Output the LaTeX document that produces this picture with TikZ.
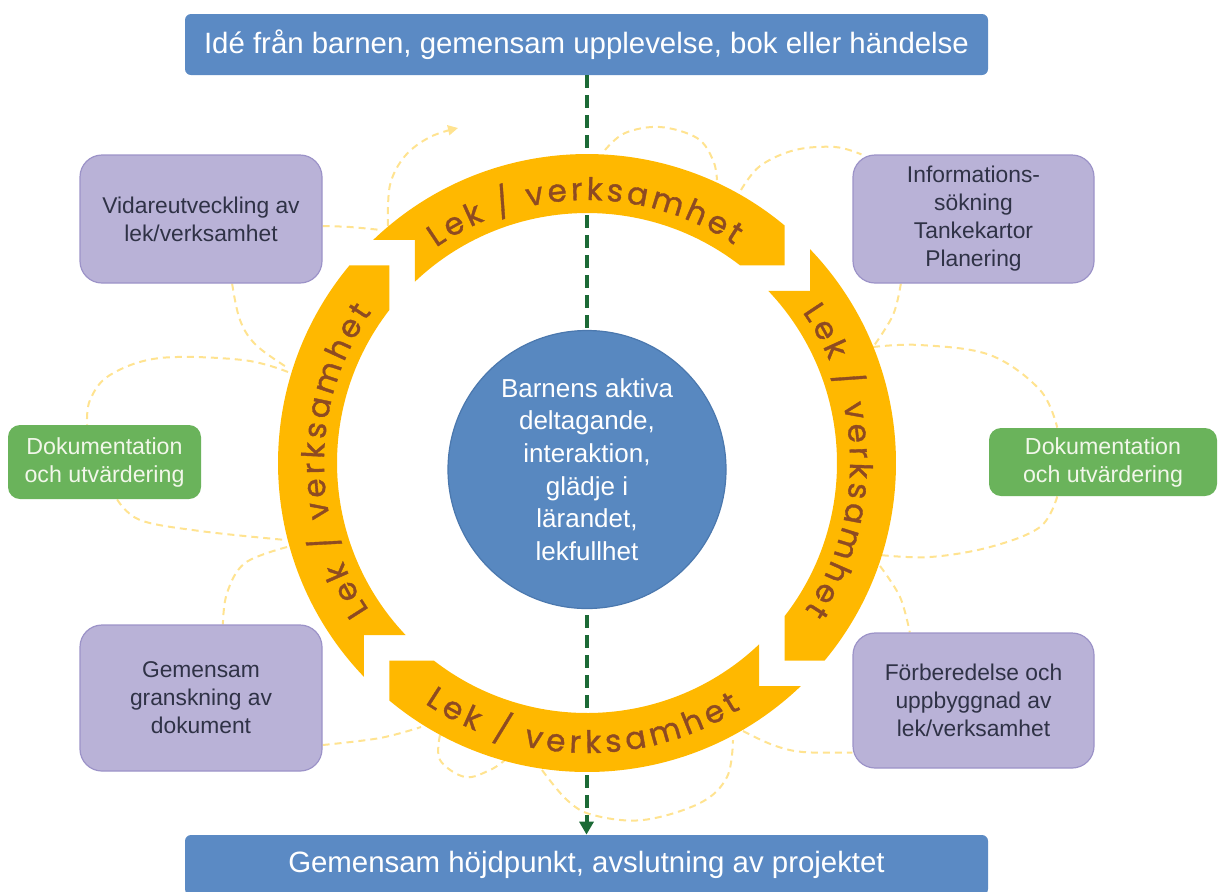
\documentclass[tikz,border=0pt]{standalone}
\usepackage{fontspec}
\setmainfont{Liberation Sans}
\newfontfamily\lekfont[FakeBold=1.2]{Poppins}
\usetikzlibrary{decorations.text,arrows.meta,calc}
\definecolor{bannerblue}{HTML}{5B8AC4}
\definecolor{circblue}{HTML}{5888C0}
\definecolor{circedge}{HTML}{4B78AE}
\definecolor{lilac}{HTML}{B9B2D7}
\definecolor{lilacedge}{HTML}{9C93C8}
\definecolor{lilactext}{HTML}{2F3246}
\definecolor{leafgreen}{HTML}{6AB35B}
\definecolor{leaftext}{HTML}{F2F7EA}
\definecolor{amber}{HTML}{FFB800}
\definecolor{lekbrown}{HTML}{8E4B22}
\definecolor{pathgreen}{HTML}{1C6A36}
\definecolor{dashyellow}{HTML}{FFE390}
\pgfdeclarelayer{bg}
\pgfsetlayers{bg,main}
\tikzset{
  banner/.style={rectangle, rounded corners=3pt, fill=bannerblue, text=white, font=\fontsize{14.7}{17}\selectfont, minimum width=401.5pt, inner sep=0pt},
  taskbox/.style={rectangle, rounded corners=11pt, fill=lilac, draw=lilacedge, line width=0.6pt, text=lilactext, align=center, font=\fontsize{11.4}{14}\selectfont, inner sep=0pt},
  docbox/.style={rectangle, rounded corners=6pt, fill=leafgreen, text=leaftext, align=center, font=\fontsize{11.6}{14}\selectfont, inner sep=0pt},
  hub/.style={circle, fill=circblue, draw=circedge, line width=0.6pt, text=white, align=center, font=\fontsize{13}{16.3}\selectfont, minimum size=139pt, inner sep=0pt},
  loopline/.style={draw=dashyellow, line width=1pt, dash pattern=on 3.5pt off 2.5pt},
  flowline/.style={draw=pathgreen, line width=2pt, dash pattern=on 6.5pt off 3.5pt},
  lektext/.style={decorate, decoration={text along path, text={|\lekfont\fontsize{15.5}{15.5}\selectfont|Lek / verksamhet}, text color=lekbrown, text align=fit to path}},
}
\begin{document}
\begin{tikzpicture}[x=0.5pt,y=-0.5pt]
\useasboundingbox (0,0) rectangle (1218,891);

% banners and flow line
\node[banner, minimum height=30.5pt] (top) at (586.5,44.5) {Idé från barnen, gemensam upplevelse, bok eller händelse};
\node[banner, minimum height=30pt] (bot) at (586.5,865) {Gemensam höjdpunkt, avslutning av projektet};
\draw[flowline, -{Triangle[length=6.5pt,width=7pt]}] (top.south) -- (bot.north);

% ring
\begin{scope}[shift={(587,463)}, yscale=-1]
  \foreach \rot in {0,-90,-180,-270}{
    \fill[amber, rotate=\rot] (133.78:309) arc[start angle=133.78, end angle=50.25, radius=309]
      -- (197.6,197.6) -- (52.23:250) arc[start angle=52.23, end angle=133.5, radius=250]
      -- (-172.1,223.1) -- cycle;
  }
  \path[lektext] (125:263) arc[start angle=125, end angle=56, radius=263];
  \path[lektext] (35:263) arc[start angle=35, end angle=-34, radius=263];
  \path[lektext] (214:263) arc[start angle=214, end angle=145, radius=263];
  \path[lektext] (236:290) arc[start angle=236, end angle=302, radius=290];
\end{scope}

% centre
\node[hub] (mid) at (587,469.5) {Barnens aktiva\\deltagande,\\interaktion,\\glädje i\\lärandet,\\lekfullhet};

% boxes
\node[taskbox, minimum width=121pt, minimum height=64pt] (b1) at (201,219) {Vidareutveckling av\\lek/verksamhet};
\node[taskbox, minimum width=120.5pt, minimum height=64pt] (b2) at (973.5,219) {Informations-\\sökning\\Tankekartor\\Planering};
\node[taskbox, minimum width=121pt, minimum height=73pt] (b3) at (201,698) {Gemensam\\granskning av\\dokument};
\node[taskbox, minimum width=120.5pt, minimum height=67.5pt] (b4) at (973.5,700.5) {Förberedelse och\\uppbyggnad av\\lek/verksamhet};
\node[docbox, minimum width=96.5pt, minimum height=37pt] (gL) at (104.5,462) {Dokumentation\\och utvärdering};
\node[docbox, minimum width=114pt, minimum height=34pt] (gR) at (1103,462) {Dokumentation\\och utvärdering};

% anchor points for the loops
\coordinate (b1e) at ($(b1.east)+(0,7)$);
\coordinate (b1s) at ($(b1.south west)!0.628!(b1.south east)$);
\coordinate (b2nw) at ($(b2.north west)+(9,0)$);
\coordinate (b2s) at ($(b2.south west)!0.2!(b2.south east)$);
\coordinate (gRn) at ($(gR.north west)!0.3!(gR.north east)$);
\coordinate (gRs) at ($(gR.south west)!0.3!(gR.south east)$);
\coordinate (b4n) at ($(b4.north west)!0.237!(b4.north east)$);
\coordinate (b4w) at ($(b4.west)+(0,52)$);
\coordinate (gLn) at ($(gL.north west)!0.41!(gL.north east)$);
\coordinate (gLs) at ($(gL.south west)!0.565!(gL.south east)$);
\coordinate (b3n) at ($(b3.north west)!0.59!(b3.north east)$);
\coordinate (b3e) at ($(b3.east)+(0,47)$);
\coordinate (k1) at (381,230);
\coordinate (k2) at (388,226);
\coordinate (k2tip) at (458,128);
\coordinate (k3a) at (605,150);
\coordinate (k3b) at (717,180);
\coordinate (k4) at (741,190);
\coordinate (k5) at (873,347);
\coordinate (k6) at (880,555);
\coordinate (k7) at (880,566);
\coordinate (k8) at (288,368);
\coordinate (k9) at (288,372);
\coordinate (k10) at (286,540);
\coordinate (k11) at (287,547);
\coordinate (k12) at (421,727);
\coordinate (k13a) at (440,735);
\coordinate (k13b) at (505,760);
\coordinate (k14a) at (542,770);
\coordinate (k14b) at (733,740);
\coordinate (k15) at (743,731);

\begin{pgfonlayer}{bg}
  \draw[loopline] plot[smooth, tension=0.6] coordinates {(b1e) (350,227) (k1)};
  \draw[loopline, -{Triangle[length=5pt,width=5pt]}] plot[smooth, tension=0.6] coordinates {(k2) (390,185) (405,156) (430,137) (k2tip)};
  \draw[loopline] plot[smooth, tension=0.6] coordinates {(k3a) (625,133) (660,127) (697,138) (713,160) (k3b)};
  \draw[loopline] plot[smooth, tension=0.6] coordinates {(k4) (760,166) (795,150) (835,147) (b2nw)};
  \draw[loopline] plot[smooth, tension=0.6] coordinates {(b2s) (893,315) (k5)};
  \draw[loopline] plot[smooth, tension=0.6] coordinates {(k5) (920,345) (990,355) (1040,390) (gRn)};
  \draw[loopline] plot[smooth, tension=0.6] coordinates {(gRs) (1040,527) (990,547) (930,557) (k6)};
  \draw[loopline] plot[smooth, tension=0.6] coordinates {(k7) (900,597) (b4n)};
  \draw[loopline] plot[smooth, tension=0.6] coordinates {(b1s) (240,320) (256,345) (k8)};
  \draw[loopline] plot[smooth, tension=0.6] coordinates {(k9) (243,360) (160,358) (110,375) (90,400) (gLn)};
  \draw[loopline] plot[smooth, tension=0.6] coordinates {(gLs) (140,520) (200,531) (k10)};
  \draw[loopline] plot[smooth, tension=0.6] coordinates {(k11) (245,563) (227,593) (b3n)};
  \draw[loopline] plot[smooth, tension=0.6] coordinates {(b3e) (380,738) (k12)};
  \draw[loopline] plot[smooth, tension=0.6] coordinates {(k13a) (440,760) (465,777) (490,770) (k13b)};
  \draw[loopline] plot[smooth, tension=0.6] coordinates {(k14a) (567,800) (593,815) (643,820) (700,803) (727,777) (k14b)};
  \draw[loopline] plot[smooth, tension=0.6] coordinates {(k15) (773,745) (803,752) (b4w)};
\end{pgfonlayer}
\end{tikzpicture}
\end{document}
